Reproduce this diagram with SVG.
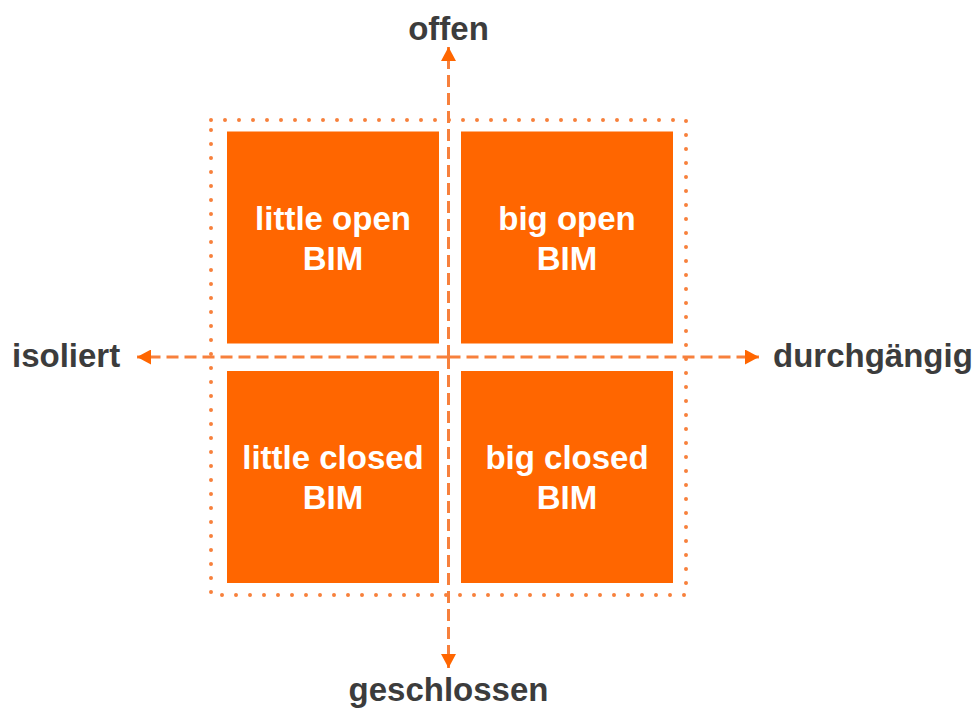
<svg xmlns="http://www.w3.org/2000/svg" width="976" height="708" viewBox="0 0 976 708">
<style>
.box{fill:#FF6600}
.bt{font-family:"Liberation Sans",Arial,sans-serif;font-weight:bold;font-size:33px;fill:#FFFFFF;text-anchor:middle}
.ax{font-family:"Liberation Sans",Arial,sans-serif;font-weight:bold;font-size:33px;fill:#3C3C3C}
.dash{stroke:#F7803C;stroke-width:3;stroke-dasharray:12 6;fill:none}
.dots{stroke:#F7803C;stroke-width:4;stroke-linecap:round;stroke-dasharray:0 14;fill:none}
</style>
<defs>
<marker id="ah" markerWidth="14" markerHeight="15" refX="14" refY="7.5" orient="auto" markerUnits="userSpaceOnUse">
<path d="M0,0 L14,7.5 L0,15 Z" fill="#FF6600"/>
</marker>
</defs>
<rect x="0" y="0" width="976" height="708" fill="#FFFFFF"/>
<rect class="dots" x="211" y="120" width="475" height="475"/>
<g id="n1"><rect class="box" x="227" y="131.5" width="212" height="212"/><text class="bt" x="333" y="230">little open</text><text class="bt" x="333" y="270">BIM</text></g>
<g id="n2"><rect class="box" x="461" y="131.5" width="212" height="212"/><text class="bt" x="567" y="230">big open</text><text class="bt" x="567" y="270">BIM</text></g>
<g id="n3"><rect class="box" x="227" y="371" width="212" height="212"/><text class="bt" x="333" y="469">little closed</text><text class="bt" x="333" y="509">BIM</text></g>
<g id="n4"><rect class="box" x="461" y="371" width="212" height="212"/><text class="bt" x="567" y="469">big closed</text><text class="bt" x="567" y="509">BIM</text></g>
<g id="connectors">
<line class="dash" x1="448.5" y1="357" x2="448.5" y2="47" marker-end="url(#ah)"/>
<line class="dash" x1="448.5" y1="357" x2="448.5" y2="668" marker-end="url(#ah)"/>
<line class="dash" x1="448.5" y1="357" x2="137" y2="357" marker-end="url(#ah)"/>
<line class="dash" x1="448.5" y1="357" x2="759" y2="357" marker-end="url(#ah)"/>
</g>
<g id="labels">
<text class="ax" x="448.5" y="40" text-anchor="middle">offen</text>
<text class="ax" x="448.5" y="701" text-anchor="middle">geschlossen</text>
<text class="ax" x="12" y="367">isoliert</text>
<text class="ax" x="773" y="367">durchgängig</text>
</g>
</svg>
